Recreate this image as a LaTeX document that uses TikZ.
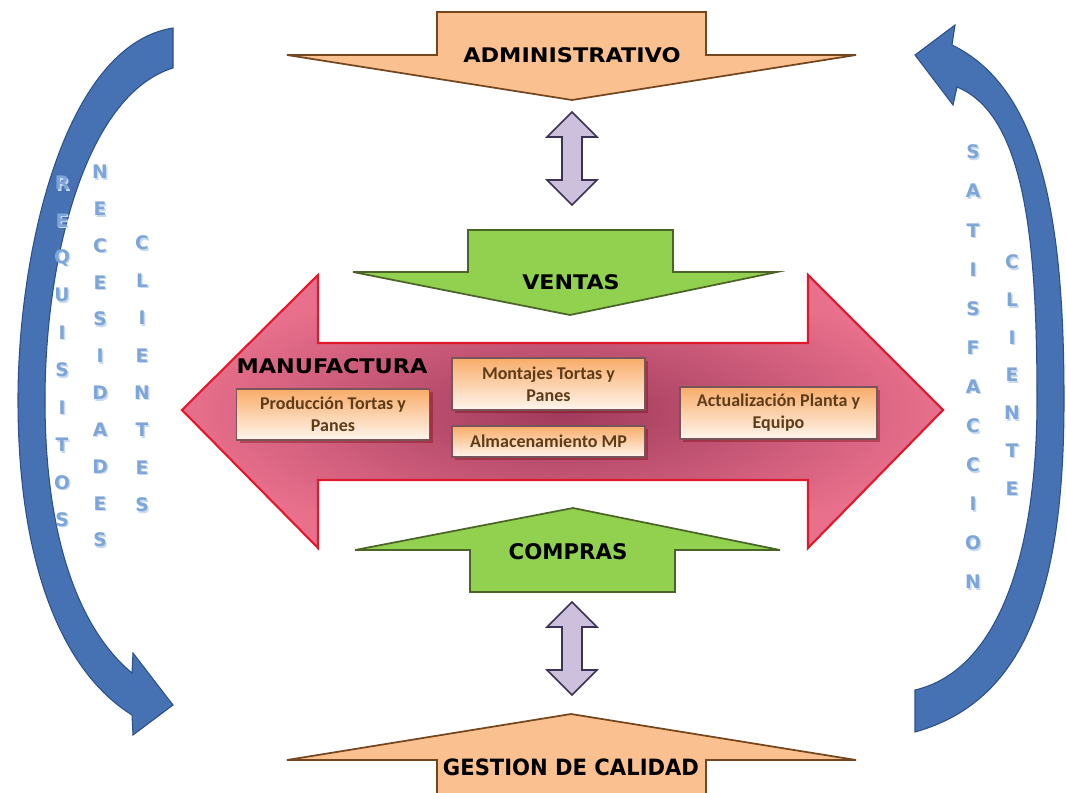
\documentclass[tikz,border=0pt]{standalone}
\usepackage{fontspec}
\usepackage{graphicx}
\setmainfont{Carlito}
\newfontfamily\headfont{DejaVu Sans}
\newfontfamily\letfont{DejaVu Sans}
\definecolor{arcblue}{RGB}{70,114,180}
\definecolor{arcedge}{RGB}{45,80,140}
\definecolor{orfill}{RGB}{250,192,144}
\definecolor{oredge}{RGB}{115,70,30}
\definecolor{grfill}{RGB}{146,208,80}
\definecolor{gredge}{RGB}{75,100,40}
\definecolor{lavfill}{RGB}{204,192,220}
\definecolor{lavedge}{RGB}{60,50,85}
\definecolor{redge}{RGB}{225,25,45}
\definecolor{rdark}{RGB}{160,58,92}
\definecolor{rlight}{RGB}{232,112,140}
\definecolor{boxtop}{RGB}{248,172,105}
\definecolor{boxbot}{RGB}{255,246,238}
\definecolor{boxedge}{RGB}{120,85,90}
\definecolor{boxtext}{RGB}{95,60,25}
\definecolor{lettc}{RGB}{125,165,215}
\definecolor{lettglow}{RGB}{200,218,240}
\newcommand{\bannertext}[3]{\resizebox{#1}{#2}{\headfont\bfseries #3}}
\tikzset{
  blockarrow/.style={line width=1.3pt, line join=miter},
  orarrow/.style={blockarrow, fill=orfill, draw=oredge},
  grarrow/.style={blockarrow, fill=grfill, draw=gredge},
  lavarrow/.style={line width=1.2pt, fill=lavfill, draw=lavedge, line join=miter},
  arcarrow/.style={fill=arcblue, draw=arcedge, line width=0.8pt, line join=miter},
  procbox/.style={draw=boxedge, line width=0.9pt, top color=boxtop, bottom color=boxbot,
    font=\fontsize{13.5}{16.5}\selectfont\bfseries, text=boxtext, align=center, inner sep=0pt},
  boxshadow/.style={fill=black!55!red, opacity=0.35},
  vlet/.style={font=\letfont\bfseries\fontsize{14}{14}\selectfont, text=lettc, inner sep=0pt},
  vglow/.style={font=\letfont\bfseries\fontsize{14}{14}\selectfont, text=lettglow, inner sep=0pt},
}
\begin{document}
\begin{tikzpicture}[x=0.75pt,y=-0.75pt]
\useasboundingbox (0,0) rectangle (1066,792);
\clip (0,0) rectangle (1066,792);
\fill[white] (0,0) rectangle (1066,792);

% left curved arrow
\draw[arcarrow] (173,28) .. controls (65,45) and (18,250) .. (18,400)
  .. controls (18,560) and (60,670) .. (132,715)
  -- (133,735) -- (173,705) -- (133,653) -- (132,673)
  .. controls (80,630) and (45,540) .. (45,400)
  .. controls (45,260) and (85,95) .. (173,68) -- cycle;

% right curved arrow
\draw[arcarrow] (952,45) .. controls (1045,90) and (1064,230) .. (1064,400)
  .. controls (1064,580) and (1030,700) .. (915,732)
  -- (915,690)
  .. controls (1000,670) and (1037,550) .. (1037,400)
  .. controls (1037,240) and (1025,115) .. (957,87)
  -- (953,105) -- (915,55) -- (955,25) -- cycle;

% top orange arrow
\draw[orarrow] (437,12) -- (706,12) -- (706,55) -- (856,55) -- (572,100)
  -- (287,55) -- (437,55) -- cycle;
\node (admin) at (572,55) {\bannertext{163pt}{11.2pt}{ADMINISTRATIVO}};

% bottom orange arrow
\draw[orarrow] (571,714) -- (856,760) -- (706,760) -- (706,800) -- (437,800)
  -- (437,760) -- (287,760) -- cycle;
\node (gestion) at (571,767) {\bannertext{192pt}{12.5pt}{GESTION DE CALIDAD}};

% lavender double arrows
\draw[lavarrow] (572,112) -- (597,137) -- (582,137) -- (582,180) -- (597,180)
  -- (572,205) -- (547,180) -- (562,180) -- (562,137) -- (547,137) -- cycle;
\draw[lavarrow] (572,602) -- (597,627) -- (582,627) -- (582,670) -- (597,670)
  -- (572,695) -- (547,670) -- (562,670) -- (562,627) -- (547,627) -- cycle;

% big red double arrow
\draw[line width=1.6pt, draw=redge, line join=miter, inner color=rdark, outer color=rlight]
  (182,410) -- (318,275) -- (318,343) -- (808,343) -- (808,275) -- (943,410)
  -- (808,548) -- (808,480) -- (318,480) -- (318,548) -- cycle;

% green arrows
\draw[grarrow] (468,230) -- (673,230) -- (673,272) -- (777,272) -- (570,315)
  -- (353,272) -- (468,272) -- cycle;
\node (ventas) at (571,282) {\bannertext{73pt}{11.2pt}{VENTAS}};

\draw[grarrow] (573,508) -- (780,550) -- (675,550) -- (675,592) -- (470,592)
  -- (470,550) -- (355,550) -- cycle;
\node (compras) at (568,552) {\bannertext{89pt}{12pt}{COMPRAS}};

% manufactura label
\node (manuf) at (332,366) {\bannertext{143pt}{11.2pt}{MANUFACTURA}};

% process boxes
\fill[boxshadow] (240,392) rectangle (433,443);
\node[procbox, minimum width=193*0.75pt, minimum height=51*0.75pt] (prod) at (333,414.5)
  {Producción Tortas y\\Panes};
\fill[boxshadow] (455,361) rectangle (648,413);
\node[procbox, minimum width=193*0.75pt, minimum height=52*0.75pt] (mont) at (548.5,384)
  {Montajes Tortas y\\Panes};
\fill[boxshadow] (455,429) rectangle (648,460);
\node[procbox, minimum width=193*0.75pt, minimum height=31*0.75pt] (alm) at (548.5,441.5)
  {Almacenamiento MP};
\fill[boxshadow] (683,390) rectangle (880,442);
\node[procbox, minimum width=197*0.75pt, minimum height=52*0.75pt] (act) at (778.5,413)
  {Actualización Planta y\\Equipo};

% vertical letters
\foreach \c [count=\i from 0] in {R,E,Q,U,I,S,I,T,O,S} {
  \node[vglow] (reqg\i) at (63.5,184.5+\i*37.4) {\c};
  \node[vlet] (req\i) at (62,183+\i*37.4) {\c};
}
\foreach \c [count=\i from 0] in {N,E,C,E,S,I,D,A,D,E,S} {
  \node[vglow] (necg\i) at (101.5,173.5+\i*36.8) {\c};
  \node[vlet] (nec\i) at (100,172+\i*36.8) {\c};
}
\foreach \c [count=\i from 0] in {C,L,I,E,N,T,E,S} {
  \node[vglow] (clig\i) at (143.5,244.5+\i*37.4) {\c};
  \node[vlet] (cli\i) at (142,243+\i*37.4) {\c};
}
\foreach \c [count=\i from 0] in {S,A,T,I,S,F,A,C,C,I,O,N} {
  \node[vglow] (satg\i) at (974.5,153.5+\i*39.1) {\c};
  \node[vlet] (sat\i) at (973,152+\i*39.1) {\c};
}
\foreach \c [count=\i from 0] in {C,L,I,E,N,T,E} {
  \node[vglow] (cteg\i) at (1013.5,263.5+\i*37.7) {\c};
  \node[vlet] (cte\i) at (1012,262+\i*37.7) {\c};
}
\end{tikzpicture}
\end{document}
